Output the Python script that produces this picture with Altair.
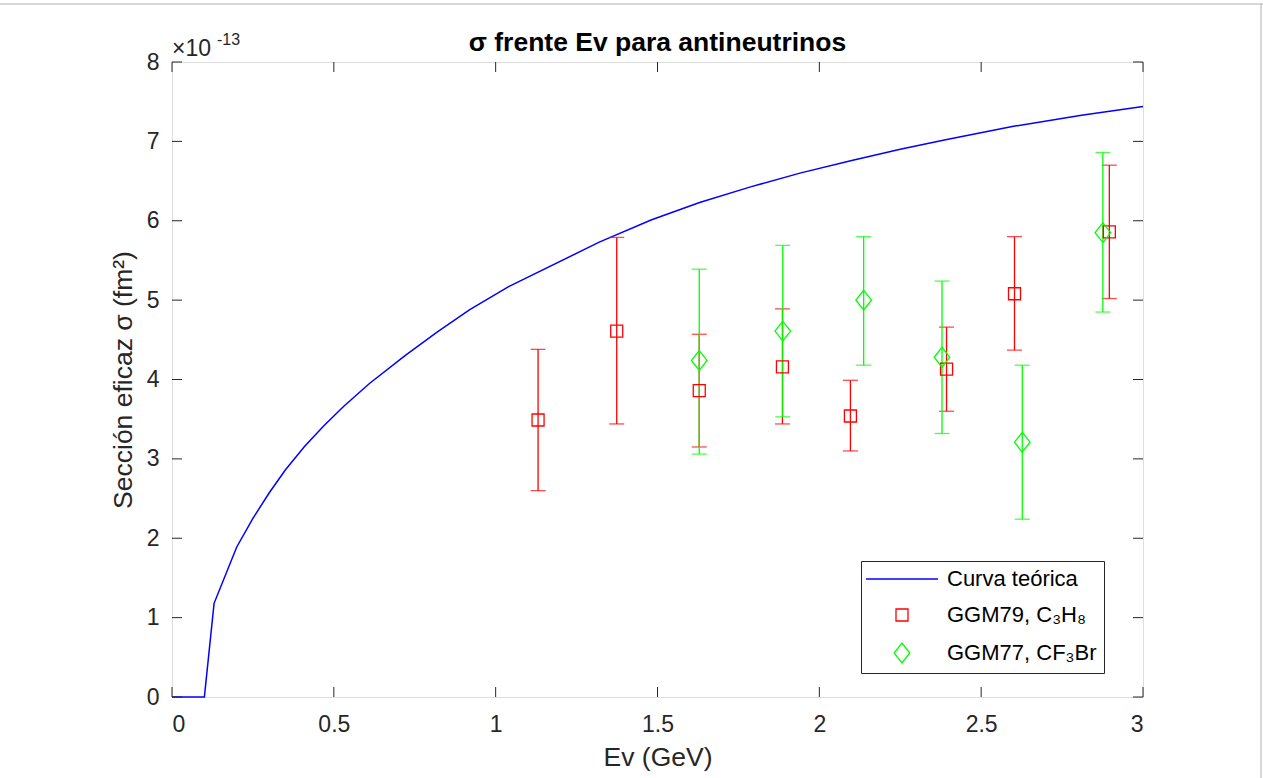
import altair as alt
import pandas as pd

# ---- data (sigma in units of 1e-13 fm^2) ----
curve_E = [0, 0.10, 0.13, 0.20, 0.25, 0.30, 0.35, 0.41, 0.47, 0.53, 0.61, 0.72,
           0.82, 0.92, 1.04, 1.32, 1.48, 1.63, 1.79, 1.94, 2.10, 2.25, 2.39,
           2.60, 2.81, 3.0]
curve_sigma = [0, 0, 1.18, 1.89, 2.25, 2.57, 2.86, 3.16, 3.42, 3.66, 3.95, 4.30,
               4.60, 4.88, 5.17, 5.73, 6.01, 6.23, 6.43, 6.60, 6.76, 6.90, 7.02,
               7.19, 7.33, 7.44]

ggm79_E = [1.131, 1.374, 1.629, 1.886, 2.096, 2.393, 2.603, 2.896]
ggm79_sigma = [3.49, 4.61, 3.86, 4.16, 3.54, 4.13, 5.08, 5.86]
ggm79_low = [2.60, 3.44, 3.15, 3.44, 3.10, 3.60, 4.37, 5.02]
ggm79_high = [4.38, 5.79, 4.57, 4.89, 3.99, 4.66, 5.80, 6.70]

ggm77_E = [1.629, 1.887, 2.137, 2.379, 2.627, 2.876]
ggm77_sigma = [4.24, 4.61, 5.00, 4.28, 3.21, 5.85]
ggm77_low = [3.06, 3.53, 4.18, 3.32, 2.24, 4.85]
ggm77_high = [5.39, 5.69, 5.80, 5.24, 4.18, 6.86]

series_names = ["Curva teórica", "GGM79, C₃H₈", "GGM77, CF₃Br"]
series_colors = ["#0000ff", "#ff0000", "#00ff00"]
series_shapes = ["M-6,0L6,0", "M-1,-1L1,-1L1,1L-1,1Z", "M-1.3,0L0,-1.65L1.3,0L0,1.65Z"]

x_ticks = [0, 0.5, 1, 1.5, 2, 2.5, 3]
y_ticks = [0, 1, 2, 3, 4, 5, 6, 7, 8]

title_text = "σ frente Ev para antineutrinos"

# ---- tables ----
curve_df = pd.DataFrame({"E": curve_E, "sigma": curve_sigma})
pts_df = pd.concat([
    pd.DataFrame({"E": ggm79_E, "sigma": ggm79_sigma, "lo": ggm79_low,
                  "hi": ggm79_high, "series": series_names[1]}),
    pd.DataFrame({"E": ggm77_E, "sigma": ggm77_sigma, "lo": ggm77_low,
                  "hi": ggm77_high, "series": series_names[2]}),
], ignore_index=True)
xt_df = pd.DataFrame({"E": x_ticks})
yt_df = pd.DataFrame({"sigma": y_ticks})

W, H = 971, 635
FONT = "Liberation Sans"
AX = "#262626"
TL = 10

xs = alt.Scale(domain=[0, 3], nice=False, zero=False)
ys = alt.Scale(domain=[0, 8], nice=False, zero=False)
xax = alt.Axis(title="Ev (GeV)", values=x_ticks, format="~g", tickSize=0,
               domain=False, grid=False, labelPadding=16, titlePadding=8,
               labelFontSize=23, titleFontSize=26.5, labelFont=FONT, titleFont=FONT,
               labelColor=AX, titleColor=AX, titleFontWeight="normal")
yax = alt.Axis(title="Sección eficaz σ (fm²)", values=y_ticks, format="~g", tickSize=0,
               domain=False, grid=False, labelPadding=13, titlePadding=9,
               labelFontSize=23, titleFontSize=26.5, labelFont=FONT, titleFont=FONT,
               labelColor=AX, titleColor=AX, titleFontWeight="normal")

X = alt.X("E:Q", scale=xs, axis=xax)
Y = alt.Y("sigma:Q", scale=ys, axis=yax)
YLO = alt.Y("lo:Q", scale=ys, axis=yax)
YHI = alt.Y("hi:Q", scale=ys, axis=yax)

color_scale = alt.Scale(domain=series_names, range=series_colors)
shape_scale = alt.Scale(domain=series_names, range=series_shapes)

legend = alt.Legend(
    title=None, orient="none", legendX=689, legendY=499,
    fillColor="white", strokeColor=AX, padding=7, cornerRadius=0,
    labelFont=FONT, labelFontSize=22, labelColor="#000000",
    symbolOffset=23, labelOffset=34, rowPadding=14,
    symbolStrokeWidth=1.3, symbolSize=144, symbolFillColor="transparent",
    labelLimit=400)

curve = alt.Chart(curve_df).mark_line(color="#0000ff", strokeWidth=1.5).encode(x=X, y=Y)

layers = [curve]
for name, col in zip(series_names[1:], series_colors[1:]):
    base = alt.Chart(pts_df).transform_filter(alt.datum.series == name)
    layers.append(base.mark_rule(color=col, strokeWidth=1.3).encode(x=X, y=YLO, y2="hi:Q"))
    layers.append(base.mark_tick(color=col, orient="horizontal", size=15,
                                 thickness=1.3).encode(x=X, y=YLO))
    layers.append(base.mark_tick(color=col, orient="horizontal", size=15,
                                 thickness=1.3).encode(x=X, y=YHI))

points = alt.Chart(pts_df).mark_point(filled=False, size=144, strokeWidth=1.3, opacity=1).encode(
    x=X, y=Y,
    color=alt.Color("series:N", scale=color_scale, legend=legend),
    shape=alt.Shape("series:N", scale=shape_scale, legend=legend))
layers.append(points)

# inward ticks on all four sides
layers += [
    alt.Chart(xt_df).mark_rule(color=AX, strokeWidth=1).encode(
        x=X, y=alt.value(H), y2=alt.value(H - TL)),
    alt.Chart(xt_df).mark_rule(color=AX, strokeWidth=1).encode(
        x=X, y=alt.value(0), y2=alt.value(TL)),
    alt.Chart(yt_df).mark_rule(color=AX, strokeWidth=1).encode(
        y=Y, x=alt.value(0), x2=alt.value(TL)),
    alt.Chart(yt_df).mark_rule(color=AX, strokeWidth=1).encode(
        y=Y, x=alt.value(W), x2=alt.value(W - TL)),
]

# page border lines (light gray) seen at top and right of the reference
layers += [
    alt.Chart(pd.DataFrame({"k": [0]})).mark_rule(color="#b0b0b0", strokeWidth=1).encode(
        x=alt.value(-172), x2=alt.value(W + 120), y=alt.value(-58)),
    alt.Chart(pd.DataFrame({"k": [0]})).mark_rule(color="#b0b0b0", strokeWidth=1).encode(
        x=alt.value(W + 118), y=alt.value(-58), y2=alt.value(H + 81)),
]

# exponent label and title
layers += [
    alt.Chart(pd.DataFrame({"t": ["×10"]})).mark_text(
        font=FONT, fontSize=23, color=AX, align="left", baseline="alphabetic").encode(
        text="t:N", x=alt.value(0), y=alt.value(-6)),
    alt.Chart(pd.DataFrame({"t": ["-13"]})).mark_text(
        font=FONT, fontSize=16, color=AX, align="left", baseline="alphabetic").encode(
        text="t:N", x=alt.value(45), y=alt.value(-17)),
    alt.Chart(pd.DataFrame({"t": [title_text]})).mark_text(
        font=FONT, fontSize=26.5, fontWeight="bold", color="#000000", align="center",
        baseline="alphabetic").encode(
        text="t:N", x=alt.value(W / 2), y=alt.value(-11)),
]

chart = alt.layer(*layers).properties(
    width=W, height=H,
    autosize=alt.AutoSizeParams(type="none"),
    padding={"left": 172, "top": 62, "right": 120, "bottom": 81},
).configure_view(stroke=AX, strokeWidth=1).configure(background="white")

chart.save("out.html", embed_options={"renderer": "svg", "actions": False})
